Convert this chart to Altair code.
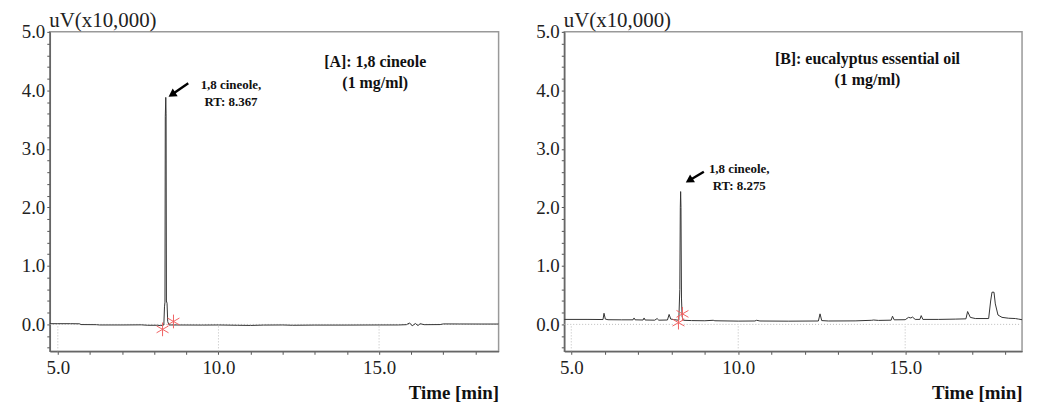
import altair as alt
import pandas as pd

# ---------------- data ----------------
# Panel A: 1,8 cineole standard
a_time = [4.75, 5.0, 5.4, 5.68, 5.72, 6.2, 6.3, 7.0, 7.6, 7.8, 8.1, 8.2, 8.30, 8.32, 8.335,
          8.345, 8.36, 8.37, 8.38, 8.40, 8.42, 8.46, 8.6, 9.5, 10.0, 10.6, 11.0, 11.4, 12.0,
          12.3, 13.0, 14.0, 15.0, 15.6, 15.85, 15.95, 16.03, 16.13, 16.21, 16.28, 16.4, 16.9,
          17.0, 17.5, 18.2, 18.72]
a_signal = [0.012, 0.012, 0.012, 0.010, -0.003, -0.005, -0.01, -0.01, -0.008, -0.015, -0.015,
            -0.02, -0.01, 0.30, 0.38, 3.55, 3.88, 3.6, 0.40, 0.36, 0.05, -0.01, -0.01, -0.012,
            -0.01, -0.015, -0.018, -0.012, -0.01, -0.015, -0.012, -0.012, -0.01, -0.01, -0.005,
            0.025, -0.025, 0.015, -0.02, 0.012, -0.005, -0.003, 0.008, 0.007, 0.006, 0.006]

# Panel B: eucalyptus essential oil
b_time = [4.79, 5.5, 5.95, 5.98, 6.02, 6.1, 6.5, 6.85, 6.88, 6.91, 7.15, 7.18, 7.21, 7.5, 7.57,
          7.62, 7.88, 7.93, 7.98, 8.1, 8.22, 8.25, 8.265, 8.275, 8.285, 8.30, 8.32, 8.36, 8.6,
          9.0, 9.25, 9.3, 10.0, 10.5, 10.55, 10.65, 11.5, 12.4, 12.45, 12.5, 12.7, 13.5, 14.0,
          14.05, 14.2, 14.58, 14.62, 14.67, 15.0, 15.1, 15.17, 15.22, 15.3, 15.44, 15.48, 15.53,
          16.0, 16.5, 16.82, 16.87, 16.95, 17.1, 17.5, 17.56, 17.6, 17.66, 17.7, 17.78, 17.9,
          18.1, 18.3, 18.4, 18.5]
b_signal = [0.085, 0.085, 0.083, 0.19, 0.09, 0.08, 0.078, 0.078, 0.11, 0.078, 0.075, 0.11, 0.075,
            0.072, 0.10, 0.072, 0.075, 0.17, 0.09, 0.08, 0.07, 0.6, 2.0, 2.27, 2.0, 0.45, 0.13,
            0.07, 0.065, 0.062, 0.07, 0.062, 0.056, 0.058, 0.07, 0.058, 0.055, 0.058, 0.18,
            0.065, 0.058, 0.06, 0.07, 0.075, 0.068, 0.072, 0.14, 0.078, 0.08, 0.12, 0.11, 0.125,
            0.085, 0.085, 0.15, 0.085, 0.085, 0.09, 0.095, 0.22, 0.12, 0.10, 0.10, 0.40, 0.55,
            0.55, 0.35, 0.16, 0.12, 0.105, 0.10, 0.09, 0.08]

# integration markers (peak start / end)
a_mark_t = [8.26, 8.60]
a_mark_v = [-0.085, 0.05]
b_mark_t = [8.21, 8.33]
b_mark_v = [0.03, 0.18]

x_ticks = [5, 6, 7, 8, 9, 10, 11, 12, 13, 14, 15, 16, 17, 18]
y_ticks = [-0.4, -0.2, 0.0, 0.2, 0.4, 0.6, 0.8, 1.0, 1.2, 1.4, 1.6, 1.8, 2.0, 2.2, 2.4, 2.6,
           2.8, 3.0, 3.2, 3.4, 3.6, 3.8, 4.0, 4.2, 4.4, 4.6, 4.8, 5.0]
grid_x = [5, 10, 15]
Y_DOMAIN = [-0.46, 5.0]

SERIF = "Liberation Serif"
RED = "#f06262"
ASTERISK = "M0,-1L0,1M-0.87,-0.5L0.87,0.5M-0.87,0.5L0.87,-0.5"


def panel(times, signals, xdom, width, title_txt, title_pos, peak_txt, peak_pos,
          arrow_tail, arrow_head, arrow_angle, mark_t, mark_v):
    xs = alt.Scale(domain=xdom, nice=False, zero=False)
    ys = alt.Scale(domain=Y_DOMAIN, nice=False, zero=False)
    x_axis = alt.Axis(values=x_ticks, title="Time [min]",
                      labelExpr="datum.value % 5 == 0 ? format(datum.value, '.1f') : ''",
                      labelOverlap=False, labelFlush=False, labelPadding=4,
                      titleAnchor="end", titleFont=SERIF, titleFontSize=19,
                      titleFontWeight="bold", titleColor="#111", titlePadding=6)
    y_axis = alt.Axis(values=y_ticks, title="uV(x10,000)",
                      labelExpr="abs(datum.value - round(datum.value)) < 0.01 ? format(datum.value, '.1f') : ''",
                      labelOverlap=False, labelFlush=False,
                      titleAngle=0, titleAlign="left", titleBaseline="bottom",
                      titleX=-1, titleY=-1, titleFont=SERIF, titleFontSize=21,
                      titleFontWeight="normal", titleColor="#222", minExtent=36)
    X = alt.X("t:Q", scale=xs, axis=x_axis)
    Y = alt.Y("v:Q", scale=ys, axis=y_axis)
    trace = pd.DataFrame({"t": times, "v": signals})

    vgrid = alt.Chart(pd.DataFrame({"t": grid_x, "v": [Y_DOMAIN[0]] * 3, "v2": [0.0] * 3})).mark_rule(
        color="#bbbbbb", strokeDash=[1, 2], strokeWidth=1).encode(x=X, y=Y, y2="v2:Q")
    hgrid = alt.Chart(pd.DataFrame({"v": [0.0]})).mark_rule(
        color="#bbbbbb", strokeDash=[1, 2], strokeWidth=1).encode(y=Y)

    line = alt.Chart(trace).mark_line(color="#333333", strokeWidth=1).encode(x=X, y=Y)

    title = alt.Chart(pd.DataFrame({"t": [title_pos[0]], "v": [title_pos[1]], "s": [title_txt]})).mark_text(
        font=SERIF, fontSize=16, fontWeight="bold", color="#111", lineBreak="\n", lineHeight=21,
        align="center", baseline="middle").encode(x=X, y=Y, text="s:N")

    peak = alt.Chart(pd.DataFrame({"t": [peak_pos[0]], "v": [peak_pos[1]], "s": [peak_txt]})).mark_text(
        font=SERIF, fontSize=13, fontWeight="bold", color="#111", lineBreak="\n", lineHeight=17,
        align="center", baseline="middle").encode(x=X, y=Y, text="s:N")

    shaft = alt.Chart(pd.DataFrame({"t": [arrow_tail[0]], "v": [arrow_tail[1]],
                                    "t2": [arrow_head[0]], "v2": [arrow_head[1]]})).mark_rule(
        color="#000", strokeWidth=2.4).encode(x=X, y=Y, x2="t2:Q", y2="v2:Q")
    head = alt.Chart(pd.DataFrame({"t": [arrow_head[0]], "v": [arrow_head[1]]})).mark_point(
        shape="triangle-up", filled=True, color="#000", size=85, angle=arrow_angle, opacity=1).encode(x=X, y=Y)

    marks = alt.Chart(pd.DataFrame({"t": mark_t, "v": mark_v})).mark_point(
        shape=ASTERISK, filled=False, color=RED, strokeWidth=1, size=190, opacity=1).encode(x=X, y=Y)

    return alt.layer(vgrid, hgrid, line, marks, shaft, head, title, peak).properties(
        width=width, height=321)


left = panel(a_time, a_signal, [4.75, 18.72], 451,
             "[A]: 1,8 cineole\n(1 mg/ml)", (14.88, 4.48),
             "1,8 cineole,\nRT: 8.367", (10.39, 4.09),
             (9.06, 4.12), (8.55, 3.93), 237, a_mark_t, a_mark_v)
right = panel(b_time, b_signal, [4.79, 18.5], 460,
              "[B]: eucalyptus essential oil\n(1 mg/ml)", (13.87, 4.53),
              "1,8 cineole,\nRT: 8.275", (10.03, 2.66),
              (8.97, 2.61), (8.53, 2.46), 238, b_mark_t, b_mark_v)

chart = alt.hconcat(left, right, spacing=26).configure_view(
    stroke="#999999", strokeWidth=1.5
).configure_axis(
    labelFont=SERIF, labelFontSize=19, labelColor="#222", labelPadding=2,
    labelOverlap=False, labelFlush=False,
    tickColor="#555", tickSize=3, domainColor="#666", domainWidth=1.5, grid=False
).properties(background="white", padding={"left": 5, "top": 0, "right": 5, "bottom": 5})

chart.save("out.html", embed_options={"renderer": "svg", "actions": False})
